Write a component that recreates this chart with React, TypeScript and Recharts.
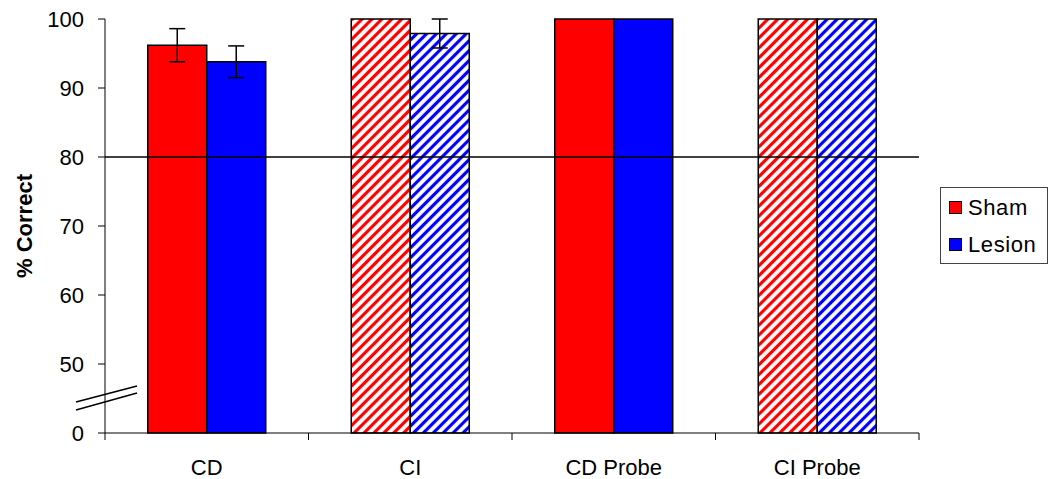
import {
  Bar,
  BarChart,
  Cell,
  ErrorBar,
  Legend,
  ReferenceLine,
  XAxis,
  YAxis,
} from "recharts";

const categories = ["CD", "CI", "CD Probe", "CI Probe"];
const shamValues = [96.2, 100, 100, 100];
const lesionValues = [93.8, 97.9, 100, 100];
const shamErrors = [2.4, null, null, null];
const lesionErrors = [2.3, 2.1, null, null];
const hatched = [false, true, false, true];
const yTickLabels = [0, 50, 60, 70, 80, 90, 100];
const criterion = 80;

const RED = "#FF0000";
const BLUE = "#0000FF";
const FONT = '"Liberation Sans", Arial, sans-serif';

// broken axis: 0-50 is squeezed into one tick step, above 50 is linear
const toAxis = (v: number) => (v <= 50 ? v / 5 : v - 40);
const fromAxis = (a: number) => (a <= 10 ? a * 5 : a + 40);

const data = categories.map((name, i) => ({
  name,
  sham: shamValues[i],
  lesion: lesionValues[i],
  shamErr: shamErrors[i],
  lesionErr: lesionErrors[i],
  hatched: hatched[i],
}));

const YTick = (props: any) => {
  const { x, y, payload } = props;
  return (
    <g>
      <text
        x={x}
        y={y}
        dy="0.36em"
        textAnchor="end"
        fontSize={22}
        fontFamily={FONT}
        fill="#000"
      >
        {fromAxis(payload.value)}
      </text>
      {payload.value === 0 && (
        <g stroke="#000" strokeWidth={1.5}>
          <line x1={x - 8} y1={y - 31} x2={x + 53} y2={y - 47} />
          <line x1={x - 8} y1={y - 23} x2={x + 53} y2={y - 40} />
        </g>
      )}
    </g>
  );
};

const XTick = (props: any) => {
  const { x, y, payload, index, visibleTicksCount } = props;
  const half = payload.offset || 101.75;
  return (
    <g>
      <line x1={x - half} y1={y} x2={x - half} y2={y + 7} stroke="#000" />
      {index === visibleTicksCount - 1 && (
        <line x1={x + half} y1={y} x2={x + half} y2={y + 7} stroke="#000" />
      )}
      <text
        x={x}
        y={y + 42}
        textAnchor="middle"
        fontSize={22}
        fontFamily={FONT}
        fill="#000"
      >
        {payload.value}
      </text>
    </g>
  );
};

const YLabel = (props: any) => {
  const { viewBox } = props;
  const cx = 24;
  const cy = viewBox.y + viewBox.height / 2;
  return (
    <text
      x={cx}
      y={cy}
      dy="0.36em"
      textAnchor="middle"
      fontSize={22}
      fontWeight="bold"
      fontFamily={FONT}
      fill="#000"
      transform={`rotate(-90, ${cx}, ${cy})`}
    >
      % Correct
    </text>
  );
};

const legendItems = [
  { name: "Sham", color: RED },
  { name: "Lesion", color: BLUE },
];

const renderLegend = () => (
  <div
    style={{
      width: 108,
      height: 77,
      boxSizing: "border-box",
      border: "1px solid #444",
      background: "#fff",
      paddingTop: 1,
      fontFamily: FONT,
      fontSize: 22,
      letterSpacing: 0.6,
    }}
  >
    {legendItems.map((item) => (
      <div
        key={item.name}
        style={{ display: "flex", alignItems: "center", height: 37, paddingLeft: 8 }}
      >
        <span
          style={{
            display: "inline-block",
            width: 11,
            height: 11,
            border: "1.5px solid #000",
            background: item.color,
            marginRight: 6,
          }}
        />
        <span>{item.name}</span>
      </div>
    ))}
  </div>
);

export default function App() {
  return (
    <div style={{ position: "absolute", left: 0, top: 0, background: "#fff" }}>
      <BarChart
        width={1048}
        height={479}
        data={data}
        margin={{ top: 19, right: 21, bottom: 0, left: 0 }}
        barCategoryGap="21%"
        barGap={0}
      >
        <defs>
          <pattern
            id="hatchRed"
            patternUnits="userSpaceOnUse"
            width="7"
            height="7"
            patternTransform="rotate(45)"
          >
            <rect width="7" height="7" fill="#fff" />
            <line x1="3.5" y1="0" x2="3.5" y2="7" stroke={RED} strokeWidth={3.2} />
          </pattern>
          <pattern
            id="hatchBlue"
            patternUnits="userSpaceOnUse"
            width="7"
            height="7"
            patternTransform="rotate(45)"
          >
            <rect width="7" height="7" fill="#fff" />
            <line x1="3.5" y1="0" x2="3.5" y2="7" stroke={BLUE} strokeWidth={3.2} />
          </pattern>
        </defs>
        <XAxis
          dataKey="name"
          height={46}
          stroke="#000"
          tickSize={0}
          tickMargin={0}
          tickLine={false}
          tick={<XTick />}
          interval={0}
        />
        <YAxis
          width={105}
          type="number"
          domain={[0, 60]}
          ticks={yTickLabels.map(toAxis)}
          stroke="#000"
          tickSize={7}
          tickMargin={14}
          tick={<YTick />}
          label={<YLabel />}
        />
        <Legend
          layout="vertical"
          align="right"
          verticalAlign="middle"
          content={renderLegend}
          wrapperStyle={{ left: 940, top: 187, right: "auto", width: 108 }}
        />
        <Bar
          name="Sham"
          dataKey={(d: any) => toAxis(d.sham)}
          fill={RED}
          stroke="#000"
          strokeWidth={1.5}
          isAnimationActive={false}
        >
          {data.map((d, i) => (
            <Cell key={i} fill={d.hatched ? "url(#hatchRed)" : RED} />
          ))}
          <ErrorBar dataKey="shamErr" width={8} stroke="#000" strokeWidth={1.5} />
        </Bar>
        <Bar
          name="Lesion"
          dataKey={(d: any) => toAxis(d.lesion)}
          fill={BLUE}
          stroke="#000"
          strokeWidth={1.5}
          isAnimationActive={false}
        >
          {data.map((d, i) => (
            <Cell key={i} fill={d.hatched ? "url(#hatchBlue)" : BLUE} />
          ))}
          <ErrorBar dataKey="lesionErr" width={8} stroke="#000" strokeWidth={1.5} />
        </Bar>
        <ReferenceLine y={toAxis(criterion)} stroke="#000" strokeWidth={1.5} />
      </BarChart>
    </div>
  );
}
